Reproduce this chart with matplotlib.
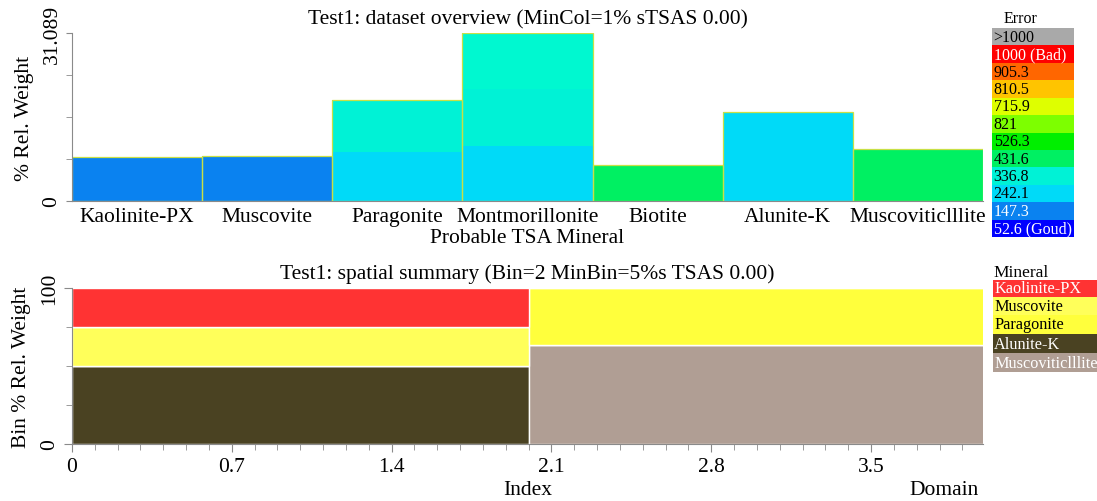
import numpy as np
import matplotlib.pyplot as plt
from matplotlib.ticker import MultipleLocator, FixedLocator

plt.rcParams['font.family'] = ['Liberation Serif', 'DejaVu Serif']

# ---------------- data: top overview ----------------
minerals = ['Kaolinite-PX', 'Muscovite', 'Paragonite', 'Montmorillonite',
            'Biotite', 'Alunite-K', 'MuscoviticIllite']
mineral_labels = ['Kaolinite-PX', 'Muscovite', 'Paragonite', 'Montmorillonite',
                  'Biotite', 'Alunite-K', 'Muscoviticlllite']
seg_low = [8.14, 8.3, 9.0, 10.2, 6.7, 16.4, 9.6]
seg_mid = [0, 0, 9.75, 10.5, 0, 0, 0]
seg_top = [0, 0, 0, 10.389, 0, 0, 0]
low_class = ['147.3', '147.3', '242.1', '242.1', '431.6', '242.1', '431.6']
y_max = 31.089

error_classes = ['>1000', '1000 (Bad)', '905.3', '810.5', '715.9', '821', '526.3',
                 '431.6', '336.8', '242.1', '147.3', '52.6 (Goud)']
error_colors = ['#a9a9a9', '#ff0000', '#ff6600', '#ffc400', '#deff00', '#7dff00',
                '#00ef00', '#00f062', '#00f2d6', '#00daf8', '#0a82f0', '#0000ff']
error_text = ['black', 'white', 'black', 'black', 'black', 'black', 'black',
              'black', 'black', 'black', 'white', 'white']

# ---------------- data: bottom spatial summary ----------------
bin_left = [0, 2]
bin_width = 2
stack_minerals = ['Alunite-K', 'MuscoviticIllite', 'Muscovite', 'Paragonite', 'Kaolinite-PX']
stack_values = {
    'Alunite-K': [50, 0],
    'MuscoviticIllite': [0, 63.5],
    'Muscovite': [25, 0],
    'Paragonite': [0, 36.5],
    'Kaolinite-PX': [25, 0],
}
legend_minerals = ['Kaolinite-PX', 'Muscovite', 'Paragonite', 'Alunite-K', 'Muscoviticlllite']
mineral_colors = ['#ff3333', '#ffff5a', '#ffff3c', '#4a4222', '#b09e94']
mineral_text = ['white', 'black', 'black', 'white', 'white']

fs = 15.5
fig = plt.figure(figsize=(10.97, 5.02), dpi=100)
spine_col = '#8a8a8a'

# ---------------- top axes ----------------
ax = fig.add_axes([0.0656, 0.5976, 0.8305, 0.3347])
x = np.arange(len(minerals))
col_map = dict(zip(error_classes, error_colors))
low_cols = [col_map[c] for c in low_class]
ax.bar(x, seg_low, width=1, color=low_cols, linewidth=0)
ax.bar(x, seg_mid, width=1, bottom=seg_low, color=col_map['336.8'], linewidth=0)
ax.bar(x, seg_top, width=1, bottom=np.add(seg_low, seg_mid), color='#00f8d0', linewidth=0)
totals = np.add(np.add(seg_low, seg_mid), seg_top)
ax.bar(x, totals, width=1, facecolor='none', edgecolor='#c8e046', linewidth=0.9)
ax.set_xlim(-0.5, len(minerals) - 0.5)
ax.set_ylim(0, y_max)
ax.set_xticks(x)
ax.set_xticklabels(mineral_labels, fontsize=fs)
ax.tick_params(axis='x', length=0, pad=4)
ax.yaxis.set_major_locator(FixedLocator([0, y_max]))
ax.set_yticklabels(['0', '31.089'], rotation=90, va='center', fontsize=fs)
ax.yaxis.set_minor_locator(FixedLocator([y_max * k / 4 for k in (1, 2, 3)]))
ax.tick_params(axis='y', which='both', color=spine_col, length=4)
for s in ['top', 'right']:
    ax.spines[s].set_visible(False)
for s in ['left', 'bottom']:
    ax.spines[s].set_color(spine_col)
ax.set_xlabel('Probable TSA Mineral', fontsize=fs, labelpad=2)
ax.set_ylabel('% Rel. Weight', fontsize=fs, labelpad=6)
ax.set_title('Test1: dataset overview (MinCol=1% sTSAS 0.00)', fontsize=fs, pad=7)

# error legend
lax = fig.add_axes([992 / 1097, 1 - 238 / 502, 82 / 1097, 209 / 502])
n = len(error_classes)
ypos = np.arange(n)[::-1]
lax.barh(ypos, [1] * n, height=1, color=error_colors, align='edge')
for yy, lab, tc in zip(ypos, error_classes, error_text):
    lax.text(0.02, yy + 0.5, lab, color=tc, fontsize=11.5, va='center', ha='left')
lax.set_xlim(0, 1)
lax.set_ylim(0, n)
lax.axis('off')
fig.text(1021 / 1097, 1 - 19 / 502, 'Error', fontsize=11.5, ha='center', va='center')

# ---------------- bottom axes ----------------
ax2 = fig.add_axes([0.0656, 0.1135, 0.8305, 0.3108])
bottom = np.zeros(len(bin_left))
mcol = dict(zip(['Kaolinite-PX', 'Muscovite', 'Paragonite', 'Alunite-K', 'MuscoviticIllite'],
                mineral_colors))
for m in stack_minerals:
    vals = np.array(stack_values[m], dtype=float)
    ax2.bar(bin_left, vals, width=bin_width, bottom=bottom, align='edge',
            color=mcol[m], edgecolor='white', linewidth=1)
    bottom += vals
ax2.set_xlim(0, 3.99)
ax2.set_ylim(0, 100)
ax2.xaxis.set_major_locator(FixedLocator([0, 0.7, 1.4, 2.1, 2.8, 3.5]))
ax2.set_xticklabels(['0', '0.7', '1.4', '2.1', '2.8', '3.5'], fontsize=fs)
ax2.xaxis.set_minor_locator(MultipleLocator(0.1))
ax2.yaxis.set_major_locator(FixedLocator([0, 100]))
ax2.set_yticklabels(['0', '100'], rotation=90, va='center', fontsize=fs)
ax2.yaxis.set_minor_locator(FixedLocator([25, 50, 75]))
ax2.tick_params(which='major', color=spine_col, length=6)
ax2.tick_params(which='minor', color=spine_col, length=4)
for s in ['top', 'right']:
    ax2.spines[s].set_visible(False)
for s in ['left', 'bottom']:
    ax2.spines[s].set_color(spine_col)
ax2.set_ylabel('Bin % Rel. Weight', fontsize=fs, labelpad=6)
ax2.text(0.5, -0.29, 'Index', transform=ax2.transAxes, fontsize=fs,
         ha='center', va='center')
ax2.text(0.957, -0.29, 'Domain', transform=ax2.transAxes, fontsize=fs,
         ha='center', va='center')
ax2.set_title('Test1: spatial summary (Bin=2 MinBin=5%s TSAS 0.00)', fontsize=fs, pad=7)

# mineral legend
mleg = fig.add_axes([993 / 1097, 1 - 373 / 502, 104 / 1097, 92 / 502])
nm = len(legend_minerals)
heights = [16, 18, 18, 19, 18]
ys = np.cumsum([0] + heights[::-1])[:-1][::-1]
mleg.barh(ys, [1] * nm, height=heights, color=mineral_colors, align='edge')
for yy, hh, lab, tc in zip(ys, heights, legend_minerals, mineral_text):
    mleg.text(0.01, yy + hh / 2, lab, color=tc, fontsize=11.7, va='center', ha='left')
mleg.set_xlim(0, 1)
mleg.set_ylim(0, sum(heights))
mleg.axis('off')
fig.text(993 / 1097, 1 - 273 / 502, 'Mineral', fontsize=12.5, ha='left', va='center')

fig.savefig('out.png', dpi=100)
